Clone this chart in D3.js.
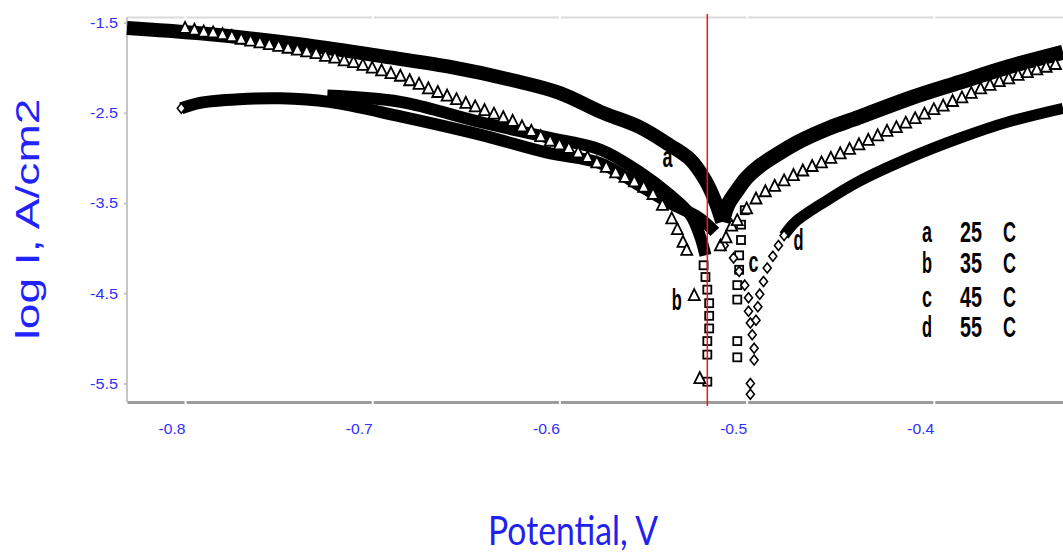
<!DOCTYPE html>
<html>
<head>
<meta charset="utf-8">
<script src="https://cdn.jsdelivr.net/npm/d3@7"></script>
<style>
  body { margin: 0; background: #fff; }
  svg { display: block; }
</style>
</head>
<body>
<svg id="chart" width="1063" height="554"></svg>
<script>
// Tafel curves, potential (V) vs log I (A/cm2)
const xTicks = [-0.8, -0.7, -0.6, -0.5, -0.4];
const yTicks = [-1.5, -2.5, -3.5, -4.5, -5.5];
const ecorr = -0.521;

// dense parts of the curves (markers so close they read as a solid band)
const aLeft = [[-0.831,-1.56],[-0.792,-1.62],[-0.739,-1.74],[-0.696,-1.87],[-0.659,-1.99],[-0.625,-2.14],
  [-0.600,-2.28],[-0.578,-2.49],[-0.557,-2.66],[-0.541,-2.86],[-0.530,-3.02],[-0.522,-3.25],[-0.517,-3.47],[-0.513,-3.71]];
const aRight = [[-0.513,-3.71],[-0.510,-3.52],[-0.505,-3.36],[-0.500,-3.22],[-0.493,-3.09],[-0.482,-2.94],
  [-0.472,-2.82],[-0.456,-2.67],[-0.440,-2.55],[-0.413,-2.34],[-0.386,-2.16],[-0.360,-1.99],[-0.331,-1.83]];
const cLeft = [[-0.724,-2.31],[-0.685,-2.38],[-0.643,-2.60],[-0.607,-2.77],[-0.578,-2.91],[-0.557,-3.16],
  [-0.541,-3.41],[-0.530,-3.63],[-0.525,-3.86],[-0.522,-4.08]];
const dLeft = [[-0.802,-2.45],[-0.792,-2.39],[-0.771,-2.35],[-0.749,-2.34],[-0.723,-2.38],[-0.685,-2.54],
  [-0.643,-2.74],[-0.607,-2.94],[-0.578,-3.06],[-0.557,-3.31],[-0.541,-3.50],[-0.525,-3.67],[-0.517,-3.82]];
const dRight = [[-0.480,-3.86],[-0.474,-3.71],[-0.457,-3.47],[-0.440,-3.26],[-0.413,-3.00],[-0.386,-2.78],
  [-0.360,-2.60],[-0.331,-2.45]];

// single markers
const bTriangles = [[-0.800,-1.56],[-0.795,-1.58],[-0.790,-1.60],[-0.785,-1.61],[-0.780,-1.63],[-0.775,-1.65],
  [-0.770,-1.68],[-0.765,-1.70],[-0.760,-1.72],[-0.755,-1.74],[-0.750,-1.76],[-0.745,-1.78],[-0.740,-1.80],
  [-0.735,-1.82],[-0.730,-1.84],[-0.725,-1.87],[-0.720,-1.89],[-0.715,-1.92],[-0.710,-1.94],[-0.705,-1.97],
  [-0.700,-2.00],[-0.695,-2.03],[-0.690,-2.06],[-0.685,-2.09],[-0.680,-2.14],[-0.675,-2.18],[-0.670,-2.23],
  [-0.665,-2.27],[-0.660,-2.31],[-0.655,-2.35],[-0.650,-2.39],[-0.645,-2.43],[-0.640,-2.47],[-0.635,-2.51],
  [-0.630,-2.55],[-0.625,-2.59],[-0.620,-2.65],[-0.615,-2.70],[-0.610,-2.76],[-0.605,-2.81],[-0.600,-2.85],
  [-0.595,-2.89],[-0.590,-2.94],[-0.585,-2.99],[-0.580,-3.05],[-0.575,-3.10],[-0.570,-3.16],[-0.565,-3.21],
  [-0.560,-3.26],[-0.555,-3.32],[-0.550,-3.40],[-0.545,-3.52],[-0.540,-3.67],[-0.537,-3.79],[-0.534,-3.93],
  [-0.532,-4.02],[-0.528,-4.52],[-0.525,-5.44],
  [-0.514,-3.97],[-0.511,-3.88],[-0.508,-3.75],[-0.505,-3.69],[-0.500,-3.56],[-0.495,-3.45],[-0.490,-3.37],
  [-0.485,-3.31],[-0.480,-3.25],[-0.475,-3.19],[-0.470,-3.14],[-0.465,-3.09],[-0.460,-3.05],[-0.455,-3.00],
  [-0.450,-2.95],[-0.445,-2.90],[-0.440,-2.85],[-0.435,-2.80],[-0.430,-2.75],[-0.425,-2.70],[-0.420,-2.66],
  [-0.415,-2.61],[-0.410,-2.56],[-0.405,-2.51],[-0.400,-2.46],[-0.395,-2.42],[-0.390,-2.37],[-0.385,-2.33],
  [-0.380,-2.28],[-0.375,-2.23],[-0.370,-2.19],[-0.365,-2.15],[-0.360,-2.12],[-0.355,-2.08],[-0.350,-2.05],
  [-0.345,-2.02],[-0.340,-1.99],[-0.335,-1.96]];
const cSquares = [[-0.523,-4.19],[-0.522,-4.32],[-0.521,-4.46],[-0.520,-4.61],[-0.520,-4.75],[-0.520,-4.89],
  [-0.521,-5.03],[-0.521,-5.18],[-0.521,-5.48],
  [-0.505,-5.21],[-0.505,-5.03],[-0.505,-4.57],[-0.505,-4.41],[-0.504,-4.24],[-0.504,-4.08],[-0.503,-3.91],
  [-0.503,-3.74],[-0.501,-3.58]];
const dDiamonds = [[-0.512,-3.97],[-0.507,-4.11],[-0.504,-4.26],[-0.501,-4.41],[-0.499,-4.55],[-0.499,-4.70],
  [-0.498,-4.83],[-0.497,-4.96],[-0.496,-5.11],[-0.496,-5.24],[-0.498,-5.50],[-0.498,-5.62],
  [-0.495,-4.80],[-0.494,-4.65],[-0.493,-4.51],[-0.491,-4.37],[-0.489,-4.22],[-0.486,-4.09],[-0.483,-3.97],
  [-0.480,-3.86],[-0.802,-2.45]];

const curveNames = ["a", "b", "c", "d"];
const curveLabelAt = [[-0.545,-3.10],[-0.540,-4.69],[-0.499,-4.27],[-0.475,-4.02]];
const temps = ["25", "35", "45", "55"];

const svg = d3.select("#chart");
const plotLeft = 127, plotRight = 1063, plotTop = 17, plotBottom = 402;

const x = d3.scaleLinear().domain([-0.831, -0.331]).range([plotLeft, plotRight]);
const y = d3.scaleLinear().domain([-1.439, -5.705]).range([plotTop, plotBottom]);

const tickFont = "'Liberation Sans', Arial, sans-serif";
const tickBlue = "#3030ff";

// top frame line with small gaps at the ticks
const gTop = svg.append("g").attr("transform", `translate(0,${plotTop})`)
  .call(d3.axisTop(x).tickValues(xTicks).tickFormat("").tickSize(0).tickSizeOuter(0));
gTop.select(".domain").attr("stroke", "#dadada").attr("stroke-width", 2);
gTop.selectAll(".tick").append("line").attr("y1", -2).attr("y2", 2)
  .attr("stroke", "#fff").attr("stroke-width", 2);

// left axis
svg.append("line").attr("x1", plotLeft).attr("x2", plotLeft).attr("y1", plotTop).attr("y2", plotBottom)
  .attr("stroke", "#c6c6c6").attr("stroke-width", 2);
const gy = svg.append("g").attr("transform", `translate(${plotLeft},0)`)
  .call(d3.axisLeft(y).tickValues(yTicks).tickFormat(d => d.toFixed(1)).tickSize(3).tickPadding(6));
gy.select(".domain").remove();
gy.selectAll(".tick line").attr("stroke", "#c6c6c6").attr("stroke-width", 2);
gy.selectAll("text").attr("font-family", tickFont).attr("font-size", 15).attr("fill", tickBlue)
  .attr("textLength", 28).attr("lengthAdjust", "spacingAndGlyphs");

// bottom axis: thick grey rule, white notches at the ticks
const gx = svg.append("g").attr("transform", `translate(0,${plotBottom})`)
  .call(d3.axisBottom(x).tickValues(xTicks).tickFormat(d => d.toFixed(1)).tickSize(0).tickSizeOuter(0));
gx.select(".domain").attr("stroke", "#9c9c9c").attr("stroke-width", 3);
gx.selectAll(".tick").append("line").attr("y1", -3).attr("y2", 3)
  .attr("stroke", "#fff").attr("stroke-width", 2);
gx.selectAll("text").attr("text-anchor", "end").attr("y", 32).attr("dy", null)
  .attr("font-family", tickFont).attr("font-size", 15).attr("fill", tickBlue)
  .attr("textLength", 27).attr("lengthAdjust", "spacingAndGlyphs");

// bands
const line = d3.line().x(d => x(d[0])).y(d => y(d[1])).curve(d3.curveCatmullRom.alpha(0.5));
const bands = [[aLeft, 14], [aRight, 15], [cLeft, 12], [dLeft, 12], [dRight, 11]];
svg.append("g").selectAll("path").data(bands).join("path")
  .attr("d", d => line(d[0]))
  .attr("fill", "none")
  .attr("stroke", "#000")
  .attr("stroke-width", d => d[1])
  .attr("stroke-linecap", "butt")
  .attr("stroke-linejoin", "round");

// markers
svg.append("g").selectAll("rect").data(cSquares).join("rect")
  .attr("x", d => x(d[0]) - 4).attr("y", d => y(d[1]) - 4)
  .attr("width", 8).attr("height", 8)
  .attr("fill", "#fff").attr("stroke", "#000").attr("stroke-width", 1.8);

svg.append("g").selectAll("path").data(dDiamonds).join("path")
  .attr("transform", d => `translate(${x(d[0])},${y(d[1])})`)
  .attr("d", "M0,-5L4,0L0,5L-4,0Z")
  .attr("fill", "#fff").attr("stroke", "#000").attr("stroke-width", 1.6);

svg.append("g").selectAll("path").data(bTriangles).join("path")
  .attr("transform", d => `translate(${x(d[0])},${y(d[1])})`)
  .attr("d", "M0,-6L5.5,5L-5.5,5Z")
  .attr("fill", "#fff").attr("stroke", "#000").attr("stroke-width", 1.8)
  .attr("stroke-linejoin", "miter");

// curve letters
const labelFont = "'Liberation Sans', Arial, sans-serif";
svg.append("g").selectAll("text").data(curveNames).join("text")
  .attr("x", (d, i) => x(curveLabelAt[i][0]))
  .attr("y", (d, i) => y(curveLabelAt[i][1]))
  .attr("font-family", labelFont).attr("font-weight", "bold").attr("font-size", 29)
  .attr("textLength", 10).attr("lengthAdjust", "spacingAndGlyphs")
  .text(d => d);

// legend
const rowY = [242, 273, 307, 337];
const lg = svg.append("g").attr("font-family", labelFont).attr("font-weight", "bold").attr("font-size", 29);
curveNames.forEach((n, i) => {
  lg.append("text").attr("x", 927).attr("y", rowY[i]).attr("text-anchor", "middle")
    .attr("textLength", 10).attr("lengthAdjust", "spacingAndGlyphs").text(n);
  lg.append("text").attr("x", 960).attr("y", rowY[i])
    .attr("textLength", 22).attr("lengthAdjust", "spacingAndGlyphs").text(temps[i]);
  lg.append("text").attr("x", 1003).attr("y", rowY[i])
    .attr("textLength", 13).attr("lengthAdjust", "spacingAndGlyphs").text("C");
});

// corrosion potential marker
svg.append("line")
  .attr("x1", x(ecorr)).attr("x2", x(ecorr))
  .attr("y1", 14).attr("y2", 406)
  .attr("stroke", "#ff1010").attr("stroke-width", 1.5);

// axis titles
svg.append("text")
  .attr("transform", "translate(39,219) rotate(-90)")
  .attr("text-anchor", "middle")
  .attr("font-family", "'Liberation Sans', Arial, sans-serif")
  .attr("font-size", 34)
  .attr("fill", "#2222ff")
  .attr("textLength", 241).attr("lengthAdjust", "spacingAndGlyphs")
  .text("log I, A/cm2");

svg.append("text")
  .attr("x", 573).attr("y", 545)
  .attr("text-anchor", "middle")
  .attr("font-family", "Lato, 'Open Sans', sans-serif")
  .attr("font-size", 40)
  .attr("fill", "#2222ee")
  .attr("textLength", 170).attr("lengthAdjust", "spacingAndGlyphs")
  .text("Potential, V");
</script>
</body>
</html>
